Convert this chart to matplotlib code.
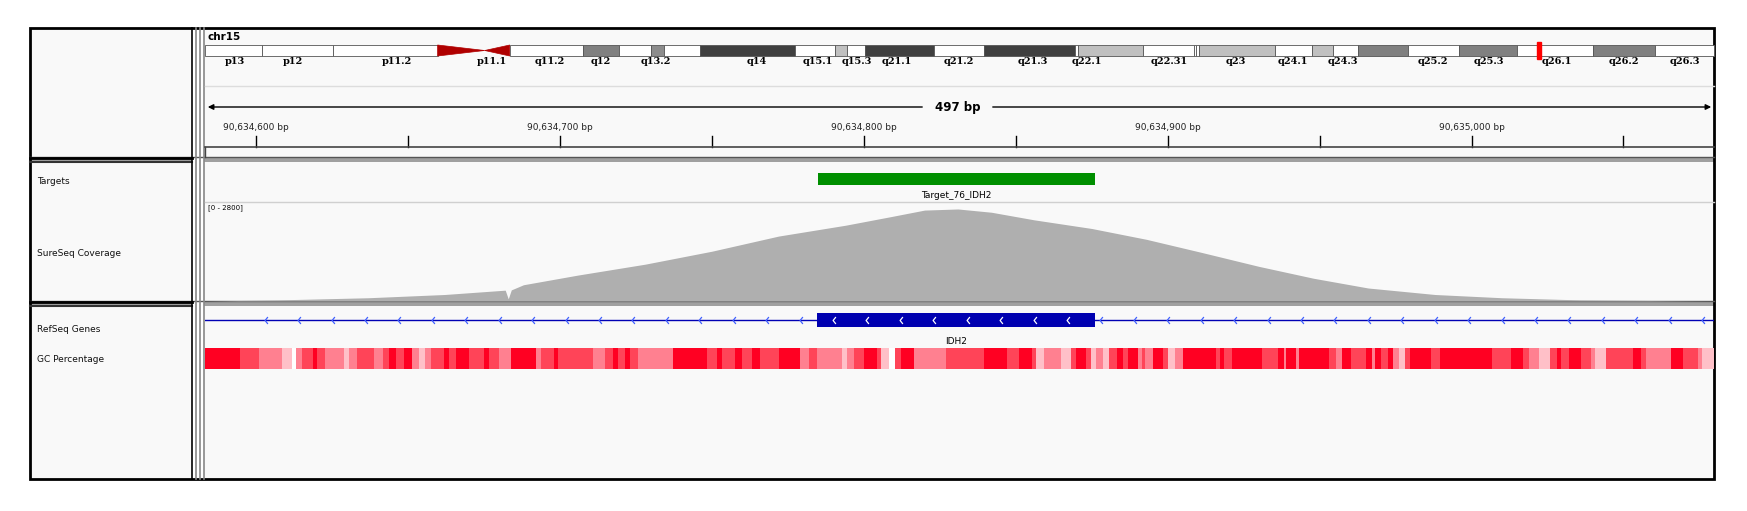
"""IGV-style snapshot: chr15 IDH2 target, coverage and GC tracks."""

import matplotlib

matplotlib.use("Agg")

import matplotlib.pyplot as plt  # noqa: E402
from matplotlib.patches import Rectangle, Polygon  # noqa: E402
from matplotlib.path import Path  # noqa: E402

W, H = 1747, 511

# ─── Data ────────────────────────────────────────────────────────────────────

VIEW_START = 90634583.2
VIEW_END = 90635079.8
RULER_LABELS = [90634600, 90634700, 90634800, 90634900, 90635000]
RULER_MINOR = [90634650, 90634750, 90634850, 90634950, 90635050]

# chr15 cytobands (Mb) and stain
BAND_NAMES = ["p13", "p12", "p11.2", "p11.1", "q11.1", "q11.2", "q12", "q13.1",
              "q13.2", "q13.3", "q14", "q15.1", "q15.2", "q15.3", "q21.1",
              "q21.2", "q21.3", "q22.1", "q22.2", "q22.31", "q22.32", "q22.33",
              "q23", "q24.1", "q24.2", "q24.3", "q25.1", "q25.2", "q25.3",
              "q26.1", "q26.2", "q26.3"]
BAND_START = [0, 3.9, 8.7, 15.8, 19.0, 20.7, 25.7, 28.1, 30.3, 31.2, 33.6,
              40.1, 42.8, 43.6, 44.8, 49.5, 52.9, 59.1, 59.3, 63.7, 67.2, 67.3,
              67.5, 72.7, 75.2, 76.6, 78.3, 81.7, 85.2, 89.1, 94.3, 98.5]
CHR_LEN = 102.5
BAND_STAIN = ["w", "w", "w", "acen", "acen", "w", "#808080", "w", "#8c8c8c",
              "w", "#404040", "w", "#c0c0c0", "w", "#404040", "w", "#404040",
              "w", "#c0c0c0", "w", "w", "w", "#c0c0c0", "w", "#c0c0c0", "w",
              "#808080", "w", "#808080", "w", "#808080", "w"]
BAND_LABELS = ["p13", "p12", "p11.2", "p11.1", "q11.2", "q12", "q13.2", "q14",
               "q15.1", "q15.3", "q21.1", "q21.2", "q21.3", "q22.1", "q22.31",
               "q23", "q24.1", "q24.3", "q25.2", "q25.3", "q26.1", "q26.2",
               "q26.3"]
LABEL_MB = [2.0, 6.0, 13.0, 19.5, 23.4, 26.9, 30.6, 37.5, 41.6, 44.3, 47.0,
            51.2, 56.2, 59.9, 65.5, 70.0, 73.9, 77.3, 83.4, 87.2, 91.8, 96.4,
            100.5]
POS_MB = 90.63

TARGET_START, TARGET_END = 90634785.0, 90634876.0
TARGET_NAME = "Target_76_IDH2"

COV_MAX = 2800
COV_POS = [90634583, 90634607, 90634637, 90634662, 90634682, 90634683,
           90634684, 90634688, 90634706, 90634728, 90634750, 90634772,
           90634794, 90634809, 90634820, 90634831, 90634842, 90634856,
           90634875, 90634893, 90634911, 90634930, 90634948, 90634966,
           90634988, 90635010, 90635036, 90635065, 90635080]
COV_VAL = [0, 32, 97, 193, 322, 64, 330, 483, 772, 1094, 1480, 1931, 2253,
           2510, 2703, 2736, 2639, 2414, 2156, 1834, 1448, 1030, 676, 386,
           193, 97, 32, 10, 0]

GENE_NAME = "IDH2"
EXON_START, EXON_END = 90634784.5, 90634876.0

# GC segments: offset (bp from view start) and level 0..4
GC_OFF = [0, 11.5, 17.7, 25.4, 28.6, 29.8, 32, 35.7, 36.8, 39.6, 45.8, 47.5,
          50, 55.7, 58.6, 60.6, 62.7, 65.5, 68, 70.4, 72.4, 74.5, 78.6, 80.2,
          82.7, 86.8, 91.7, 93.3, 96.6, 100.7, 108.8, 110.5, 114.9, 116.2,
          127.7, 131.8, 134.2, 135.9, 138.3, 140, 142.4, 152.2, 153.9, 165.3,
          168.6, 170.2, 174.3, 176.8, 180, 182.5, 189, 195.9, 198.9, 201.3,
          209.5, 211.2, 213.6, 216.9, 221, 222.6, 225.1, 227, 229.2, 233.3,
          243.9, 256.5, 263.8, 267.9, 272, 273.6, 276, 281.8, 285, 286.6,
          289.9, 291.5, 293.2, 295.6, 297.6, 300.2, 302.1, 303.8, 307, 308.3,
          309.5, 311.9, 315.2, 316.8, 319.2, 322, 332.8, 333.9, 335.5, 338,
          347.8, 353, 355.1, 355.9, 359.2, 360, 369.8, 372.2, 374.2, 377.1,
          382, 384, 384.9, 386.9, 389.3, 391, 393.1, 395, 396.7, 403.5, 406.5,
          423.6, 429.8, 433.8, 435.8, 439.1, 442.6, 444.8, 446.4, 448.8, 452.9,
          456.2, 457.3, 461.1, 470, 472.5, 474.1, 482.3, 486.3, 491.2, 492.8,
          496.6]
GC_LEVEL = [4, 3, 2, 1, 0, 2, 3, 4, 3, 2, 1, 2, 3, 2, 3, 4, 3, 4, 2, 1, 2, 3,
            4, 3, 4, 3, 4, 3, 2, 4, 2, 3, 4, 3, 2, 3, 4, 3, 4, 3, 2, 2, 4, 3,
            4, 3, 4, 3, 4, 3, 4, 2, 3, 2, 1, 2, 3, 4, 3, 1, 0, 3, 4, 2, 3,
            4, 3, 4, 3, 1, 2, 1, 3, 4, 3, 1, 2, 1, 3, 4, 3, 4, 2, 3, 2, 4, 3,
            1, 2, 4, 3, 4, 3, 4, 3, 4, 2, 4, 2, 4, 3, 2, 4, 3, 4, 2, 4, 3, 4,
            2, 1, 3, 4, 3, 4, 3, 4, 3, 2, 1, 3, 4, 3, 4, 3, 2, 1, 3, 4, 3, 2,
            4, 3, 2, 1, 3]
GC_COLORS = ["#ffffff", "#ffc0c8", "#ff8090", "#ff4458", "#ff0022"]

# ─── Layout (pixels) ─────────────────────────────────────────────────────────

X0, X1 = 205, 1714
FRAME_L, FRAME_R, FRAME_T, FRAME_B = 30, 1714, 28, 479


def px_axes(fig, x0, y0, x1, y1):
    return fig.add_axes([x0 / W, 1 - y1 / H, (x1 - x0) / W, (y1 - y0) / H])


def mb_to_px(mb):
    return X0 + mb / CHR_LEN * (X1 - X0)


fig = plt.figure(figsize=(W / 100, H / 100), dpi=100)
fig.patch.set_facecolor("white")
bg = fig.add_axes([0, 0, 1, 1])
bg.set_xlim(0, W)
bg.set_ylim(H, 0)
bg.axis("off")

panel = "#f9f9f9"
bg.add_patch(Rectangle((FRAME_L, FRAME_T), FRAME_R - FRAME_L,
                       FRAME_B - FRAME_T, fc=panel, ec="none"))
# horizontal separators
for y0, y1 in [(157, 162), (301, 306)]:
    bg.add_patch(Rectangle((FRAME_L, y0), FRAME_R - FRAME_L, y1 - y0,
                           fc="#a0a0a0", ec="none"))
    bg.plot([FRAME_L, FRAME_R], [y0, y0], color="#555555", lw=1)
    bg.plot([FRAME_L, 192], [y1, y1], color="#333333", lw=1.5)
# vertical dividers
bg.add_patch(Rectangle((192, FRAME_T), 12, FRAME_B - FRAME_T, fc="white",
                       ec="none"))
for x in (192, 196, 200, 204):
    bg.plot([x, x], [FRAME_T, FRAME_B], color="#888888" if x > 192 else "black",
            lw=1.2)
bg.add_patch(Rectangle((FRAME_L, FRAME_T), FRAME_R - FRAME_L,
                       FRAME_B - FRAME_T, fc="none", ec="black", lw=2))
for y in (158, 302):
    bg.plot([FRAME_L, 192], [y, y], color="black", lw=2)

# ─── Ideogram ────────────────────────────────────────────────────────────────
bg.text(208, 37, "chr15", fontsize=7.5, fontweight="bold", va="center")
iy0, iy1 = 45, 56
ends = BAND_START[1:] + [CHR_LEN]
for name, s, e, st in zip(BAND_NAMES, BAND_START, ends, BAND_STAIN):
    xs, xe = mb_to_px(s), mb_to_px(e)
    if st == "acen":
        mid = (iy0 + iy1) / 2
        if name.startswith("p"):
            pts = [(xs, iy0), (xe, mid), (xs, iy1)]
        else:
            pts = [(xs, mid), (xe, iy0), (xe, iy1)]
        bg.add_patch(Polygon(pts, fc="#b00000", ec="#b00000", lw=0.5))
    else:
        bg.add_patch(Rectangle((xs, iy0), xe - xs, iy1 - iy0,
                               fc="white" if st == "w" else st,
                               ec="#555555", lw=0.6))
bg.add_patch(Rectangle((mb_to_px(POS_MB) - 2, iy0 - 3), 4, iy1 - iy0 + 6,
                       fc="red", ec="red"))
for lab, mb in zip(BAND_LABELS, LABEL_MB):
    bg.text(mb_to_px(mb), 62, lab, fontsize=7, fontweight="bold",
            family="DejaVu Serif", ha="center", va="center")
bg.plot([X0, 1714], [86, 86], color="#dddddd", lw=1)

# ─── Ruler ───────────────────────────────────────────────────────────────────
bp_px = (X1 - X0) / (VIEW_END - VIEW_START)


def bp_to_px(bp):
    return X0 + (bp - VIEW_START) * bp_px


span = int(round(VIEW_END - VIEW_START))
bg.annotate("", xy=(X0, 107), xytext=(925, 107),
            arrowprops=dict(arrowstyle="-|>", color="black", lw=1,
                            mutation_scale=8))
bg.annotate("", xy=(X1, 107), xytext=(990, 107),
            arrowprops=dict(arrowstyle="-|>", color="black", lw=1,
                            mutation_scale=8))
bg.text(958, 107, f"{span} bp", fontsize=8.5, fontweight="bold",
        ha="center", va="center", bbox=dict(fc=panel, ec="none", pad=2))
for bp in RULER_LABELS:
    x = bp_to_px(bp)
    bg.text(x, 128, f"{bp:,} bp", fontsize=6.5, ha="center", va="center",
            color="#222222")
    bg.plot([x, x], [136, 147], color="black", lw=1)
for bp in RULER_MINOR:
    x = bp_to_px(bp)
    bg.plot([x, x], [136, 147], color="black", lw=1)
bg.plot([X0, X1], [147, 147], color="#444444", lw=1.2)
bg.plot([X0, X0], [147, 157], color="#444444", lw=1)

# ─── Left track names ────────────────────────────────────────────────────────
for y, lab in [(182, "Targets"), (253, "SureSeq Coverage"),
               (330, "RefSeq Genes"), (359, "GC Percentage")]:
    bg.text(37, y, lab, fontsize=6.5, va="center", color="#111111")

# ─── Targets ─────────────────────────────────────────────────────────────────
bg.plot([X0, X1], [202, 202], color="#d0d0d0", lw=1)
ax_t = px_axes(fig, X0, 162, X1, 202)
ax_t.set_xlim(VIEW_START, VIEW_END)
ax_t.set_ylim(0, 1)
ax_t.axis("off")
ax_t.barh(0.575, TARGET_END - TARGET_START, left=TARGET_START, height=0.28,
          color="#008f00")
ax_t.text((TARGET_START + TARGET_END) / 2, 0.17, TARGET_NAME, fontsize=6.5,
          ha="center", va="center")

# ─── Coverage ────────────────────────────────────────────────────────────────
ax_c = px_axes(fig, X0, 204, X1, 301)
ax_c.set_xlim(VIEW_START, VIEW_END)
ax_c.set_ylim(0, COV_MAX * 1.03)
ax_c.axis("off")
ax_c.fill_between(COV_POS, COV_VAL, 0, color="#afafaf", lw=0)
bg.text(208, 208, f"[0 - {COV_MAX}]", fontsize=5, va="center")

# ─── Gene ────────────────────────────────────────────────────────────────────
chev = Path([(0.4, 1), (-0.4, 0), (0.4, -1)],
            [Path.MOVETO, Path.LINETO, Path.LINETO])
ax_g = px_axes(fig, X0, 306, X1, 346)
ax_g.set_xlim(VIEW_START, VIEW_END)
ax_g.set_ylim(0, 40)
ax_g.invert_yaxis()
ax_g.axis("off")
ax_g.plot([VIEW_START, VIEW_END], [14, 14], color="#0000b4", lw=1)
chev_bp = [VIEW_START + 20 + 11 * i for i in range(45)]
out = [b for b in chev_bp if not EXON_START - 2 < b < EXON_END]
inn = [b for b in chev_bp if EXON_START + 5 < b < EXON_END - 2]
ax_g.barh(14, EXON_END - EXON_START, left=EXON_START, height=14,
          color="#0000b0")
ax_g.plot(out, [14] * len(out), ls="none", marker=chev, ms=5, mew=0.9,
          mec="#4060ff", mfc="none")
ax_g.plot(inn, [14] * len(inn), ls="none", marker=chev, ms=5, mew=0.9,
          mec="white", mfc="none")
ax_g.text((EXON_START + EXON_END) / 2, 35, GENE_NAME, fontsize=6.5,
          ha="center", va="center")

# ─── GC percentage ───────────────────────────────────────────────────────────
ax_gc = px_axes(fig, X0, 348, X1, 369)
ax_gc.set_xlim(0, VIEW_END - VIEW_START)
ax_gc.set_ylim(0, 1)
ax_gc.axis("off")
segs = list(zip(GC_OFF[:-1], GC_OFF[1:], GC_LEVEL))
ax_gc.bar([s for s, _, _ in segs], [1] * len(segs),
          width=[e - s for s, e, _ in segs], align="edge",
          color=[GC_COLORS[lv] for _, _, lv in segs], lw=0)

fig.savefig("out.png", dpi=100, facecolor="white")
